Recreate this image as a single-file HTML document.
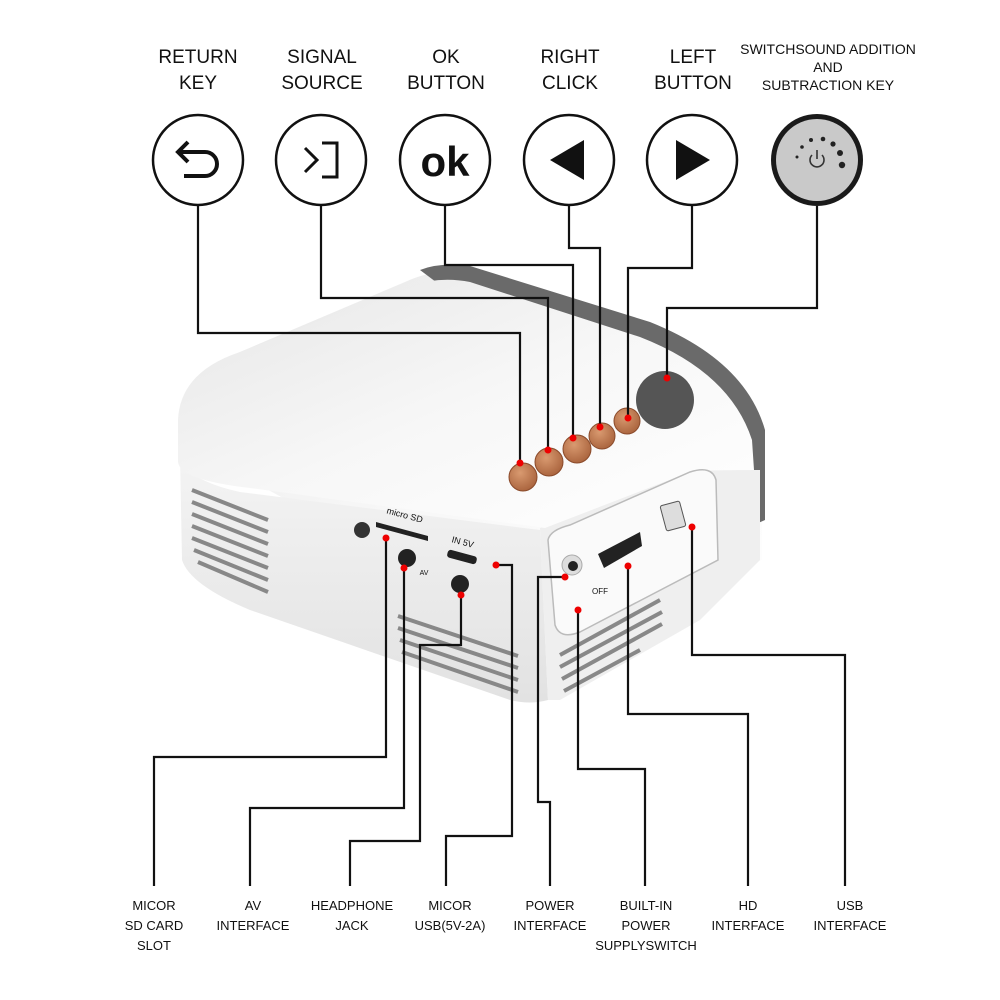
<!DOCTYPE html>
<html><head><meta charset="utf-8"><style>
html,body{margin:0;padding:0;background:#fff;}
svg{display:block;}
text{font-family:"Liberation Sans",sans-serif;fill:#111;text-anchor:middle;}
</style></head><body>
<svg width="1000" height="1000" viewBox="0 0 1000 1000" xmlns="http://www.w3.org/2000/svg">
<defs>
<linearGradient id="top" x1="0" y1="0" x2="1" y2="1">
<stop offset="0" stop-color="#e6e6e6"/><stop offset="0.5" stop-color="#f7f7f7"/><stop offset="1" stop-color="#ffffff"/>
</linearGradient>
<linearGradient id="front" x1="0" y1="0" x2="0" y2="1">
<stop offset="0" stop-color="#f4f4f4"/><stop offset="1" stop-color="#e2e2e2"/>
</linearGradient>
<radialGradient id="btn" cx="0.4" cy="0.35" r="0.7">
<stop offset="0" stop-color="#d99a70"/><stop offset="1" stop-color="#a8623c"/>
</radialGradient>
</defs>

<g font-size="19">
<text x="198" y="63">RETURN</text><text x="198" y="89">KEY</text>
<text x="322" y="63">SIGNAL</text><text x="322" y="89">SOURCE</text>
<text x="446" y="63">OK</text><text x="446" y="89">BUTTON</text>
<text x="570" y="63">RIGHT</text><text x="570" y="89">CLICK</text>
<text x="693" y="63">LEFT</text><text x="693" y="89">BUTTON</text>
</g>
<g font-size="14">
<text x="828" y="54">SWITCHSOUND ADDITION</text>
<text x="828" y="72">AND</text>
<text x="828" y="90">SUBTRACTION KEY</text>
</g>

<g fill="#fff" stroke="#111" stroke-width="2.5">
<circle cx="198" cy="160" r="45"/>
<circle cx="321" cy="160" r="45"/>
<circle cx="445" cy="160" r="45"/>
<circle cx="569" cy="160" r="45"/>
<circle cx="692" cy="160" r="45"/>
</g>
<circle cx="817" cy="160" r="46" fill="#1a1a1a"/>
<circle cx="817" cy="160" r="41" fill="#c9c9c9"/>
<path d="M180,152 L205,152 A12,12 0 0 1 205,176 L184,176" fill="none" stroke="#111" stroke-width="4"/>
<path d="M188,142 L178,152 L188,162" fill="none" stroke="#111" stroke-width="4"/>
<path d="M305,148 L317,160 L305,172" fill="none" stroke="#111" stroke-width="3"/>
<path d="M322,143 L337,143 L337,177 L322,177" fill="none" stroke="#111" stroke-width="3"/>
<text x="445" y="176" font-size="42" font-weight="bold">ok</text>
<path d="M550,160 L584,140 L584,180 Z" fill="#111"/>
<path d="M710,160 L676,140 L676,180 Z" fill="#111"/>
<g fill="#222">
<circle cx="797" cy="157" r="1.5"/><circle cx="802" cy="147" r="1.8"/><circle cx="811" cy="140" r="2"/>
<circle cx="823" cy="139" r="2.3"/><circle cx="833" cy="144" r="2.6"/><circle cx="840" cy="153" r="3"/><circle cx="842" cy="165" r="3.2"/>
</g>
<path d="M812,155 A7,7 0 1 0 822,155" fill="none" stroke="#333" stroke-width="1.6"/>
<line x1="817" y1="150" x2="817" y2="159" stroke="#333" stroke-width="1.6"/>

<path d="M178,440 Q178,380 240,352 L405,282 Q430,270 460,272 L640,330 Q740,370 762,430 L762,560 L700,580 L540,640 Z" fill="url(#top)"/>
<path d="M420,270 Q440,262 470,266 L650,322 Q745,360 765,430 L765,520 L756,524 Q745,440 690,390 Q640,348 570,324 L440,285 Z" fill="#6a6a6a"/>
<path d="M180,455 Q185,480 240,492 L540,530 L548,700 Q530,705 510,700 L250,610 Q190,585 182,560 Z" fill="url(#front)"/>
<path d="M540,528 L690,470 Q730,462 745,470 L760,470 L760,560 L700,620 L560,700 L548,700 Z" fill="#efefef"/>
<path d="M178,462 L178,420 Q180,372 240,352 L410,286 Q440,276 470,282 L640,337 Q730,372 752,440 L754,470 Q700,470 690,472 L545,528 L250,488 Q180,480 178,462 Z" fill="url(#top)"/>
<path d="M548,540 Q550,530 570,525 L690,472 Q712,465 716,480 L718,560 L580,632 Q560,640 555,625 Z" fill="#fafafa" stroke="#bbb" stroke-width="1.5"/>
<g stroke="#888" stroke-width="4" fill="none">
<path d="M192,490 L268,520"/><path d="M192,502 L268,532"/><path d="M192,514 L268,544"/><path d="M192,526 L268,556"/><path d="M192,538 L268,568"/><path d="M194,550 L268,580"/><path d="M198,562 L268,592"/>
<path d="M398,616 L518,656"/><path d="M398,628 L518,668"/><path d="M400,640 L518,680"/><path d="M402,652 L518,692"/>
<path d="M560,655 L660,600"/><path d="M560,667 L662,612"/><path d="M562,679 L662,624"/><path d="M564,691 L640,650"/>
</g>
<circle cx="362" cy="530" r="8" fill="#333"/>
<path d="M376,522 L428,536 L428,541 L376,527 Z" fill="#222"/>
<text x="404" y="518" font-size="9" transform="rotate(15 404 518)">micro SD</text>
<circle cx="407" cy="558" r="9" fill="#222"/>
<text x="424" y="575" font-size="7">AV</text>
<circle cx="460" cy="584" r="9" fill="#222"/>
<rect x="447" y="553" width="30" height="8" rx="3" fill="#222" transform="rotate(15 462 557)"/>
<text x="462" y="545" font-size="9" transform="rotate(15 462 545)">IN 5V</text>
<circle cx="572" cy="565" r="10" fill="#ddd" stroke="#aaa"/><circle cx="573" cy="566" r="5" fill="#222"/>
<path d="M598,554 L640,532 L642,546 L604,568 Z" fill="#222"/>
<text x="600" y="594" font-size="8">OFF</text>
<rect x="663" y="503" width="20" height="26" rx="2" fill="#ddd" stroke="#555" transform="rotate(-15 673 516)"/>
<circle cx="665" cy="400" r="29" fill="#555"/>
<g fill="url(#btn)" stroke="#8a4a2a" stroke-width="1">
<circle cx="523" cy="477" r="14"/><circle cx="549" cy="462" r="14"/><circle cx="577" cy="449" r="14"/><circle cx="602" cy="436" r="13"/><circle cx="627" cy="421" r="13"/>
</g>

<g fill="none" stroke="#111" stroke-width="2.2">
<path d="M198,205 L198,333 L520,333 L520,463"/>
<path d="M321,205 L321,298 L548,298 L548,450"/>
<path d="M445,205 L445,265 L573,265 L573,438"/>
<path d="M569,205 L569,248 L600,248 L600,427"/>
<path d="M692,205 L692,268 L628,268 L628,418"/>
<path d="M817,206 L817,308 L667,308 L667,378"/>
<path d="M386,538 L386,757 L154,757 L154,886"/>
<path d="M404,568 L404,808 L250,808 L250,886"/>
<path d="M461,595 L461,645 L420,645 L420,841 L350,841 L350,886"/>
<path d="M496,565 L512,565 L512,836 L446,836 L446,886"/>
<path d="M565,577 L538,577 L538,802 L550,802 L550,886"/>
<path d="M578,610 L578,769 L645,769 L645,886"/>
<path d="M628,566 L628,714 L748,714 L748,886"/>
<path d="M692,527 L692,655 L845,655 L845,886"/>
</g>
<g fill="#e00">
<circle cx="520" cy="463" r="3.5"/><circle cx="548" cy="450" r="3.5"/><circle cx="573" cy="438" r="3.5"/><circle cx="600" cy="427" r="3.5"/><circle cx="628" cy="418" r="3.5"/><circle cx="667" cy="378" r="3.5"/>
<circle cx="386" cy="538" r="3.5"/><circle cx="404" cy="568" r="3.5"/><circle cx="461" cy="595" r="3.5"/><circle cx="496" cy="565" r="3.5"/><circle cx="565" cy="577" r="3.5"/><circle cx="578" cy="610" r="3.5"/><circle cx="628" cy="566" r="3.5"/><circle cx="692" cy="527" r="3.5"/>
</g>

<g font-size="13">
<text x="154" y="910">MICOR</text><text x="154" y="930">SD CARD</text><text x="154" y="950">SLOT</text>
<text x="253" y="910">AV</text><text x="253" y="930">INTERFACE</text>
<text x="352" y="910">HEADPHONE</text><text x="352" y="930">JACK</text>
<text x="450" y="910">MICOR</text><text x="450" y="930">USB(5V-2A)</text>
<text x="550" y="910">POWER</text><text x="550" y="930">INTERFACE</text>
<text x="646" y="910">BUILT-IN</text><text x="646" y="930">POWER</text><text x="646" y="950">SUPPLYSWITCH</text>
<text x="748" y="910">HD</text><text x="748" y="930">INTERFACE</text>
<text x="850" y="910">USB</text><text x="850" y="930">INTERFACE</text>
</g>
</svg>
</body></html>
